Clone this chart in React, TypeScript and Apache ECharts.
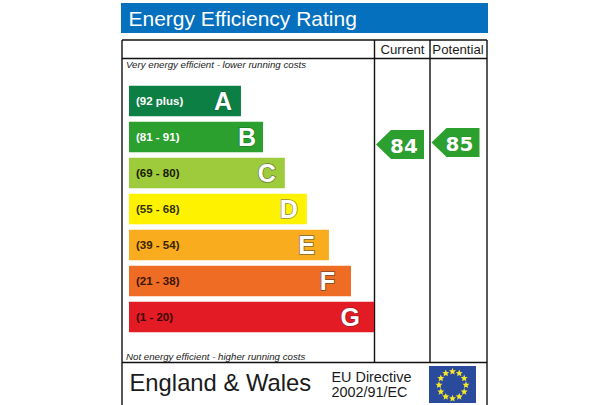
import React, { useEffect, useRef } from "react";
import * as echarts from "echarts";

const title = "Energy Efficiency Rating";
const columns = ["Current", "Potential"];
const bands = ["(92 plus)", "(81 - 91)", "(69 - 80)", "(55 - 68)", "(39 - 54)", "(21 - 38)", "(1 - 20)"];
const letters = ["A", "B", "C", "D", "E", "F", "G"];
const barLengths = [45.7, 54.7, 63.6, 72.6, 81.6, 90.6, 100];
const barColors = ["#0c8044", "#2ca02f", "#9dcb3c", "#fff200", "#f9ac1d", "#ef6c24", "#e31b25"];
const bandTextColors = ["#ffffff", "#ffffff", "#1a1a00", "#333300", "#3a2500", "#3a1500", "#3a0505"];
const letterEdges = ["#0f6b3a", "#1f7f2a", "#6f7f40", "#8f8f50", "#7f6a30", "#7a4a30", "#a01c22"];
const letterShift = [1, 3, 1, 1, -4, -6, -4];
const scores = [84, 85];
const topNote = "Very energy efficient - lower running costs";
const bottomNote = "Not energy efficient - higher running costs";
const region = "England & Wales";
const directive = ["EU Directive", "2002/91/EC"];

const SANS = "Liberation Sans, Arial, sans-serif";
const star = (cx: number, cy: number, r: number) => {
  const pts: number[][] = [];
  for (let i = 0; i < 10; i++) {
    const a = -Math.PI / 2 + (i * Math.PI) / 5;
    const q = i % 2 ? r * 0.45 : r;
    pts.push([cx + q * Math.cos(a), cy + q * Math.sin(a)]);
  }
  return { type: "polygon", silent: true, shape: { points: pts }, style: { fill: "#f6e829" } };
};
const line = (x1: number, y1: number, x2: number, y2: number) => ({
  type: "line",
  silent: true,
  shape: { x1, y1, x2, y2 },
  style: { stroke: "#111111", lineWidth: 1.4 },
});
const txt = (x: number, y: number, text: string, font: string, fill = "#1a1a1a", align = "left") => ({
  type: "text",
  silent: true,
  x,
  y,
  style: { text, font, fill, align, verticalAlign: "middle" },
});

export default function App() {
  const ref = useRef<HTMLDivElement>(null);
  useEffect(() => {
    document.body.style.margin = "0";
    const chart = echarts.init(ref.current!, undefined, { renderer: "svg" });
    const starsEls = Array.from({ length: 12 }, (_, i) => {
      const a = (i * Math.PI) / 6;
      return star(452.5 + 13.5 * Math.sin(a), 385 - 13.5 * Math.cos(a), 3.7);
    });
    chart.setOption({
      animation: false,
      backgroundColor: "#ffffff",
      grid: [
        { left: 129, top: 83, width: 245, height: 252, containLabel: false },
        { left: 372.25, top: 112.5, width: 111, height: 200 },
      ],
      xAxis: [
        { type: "value", gridIndex: 0, min: 0, max: 100, show: false },
        { type: "category", gridIndex: 1, data: columns, show: false },
      ],
      yAxis: [
        { type: "category", gridIndex: 0, inverse: true, data: bands, show: false },
        { type: "value", gridIndex: 1, min: 0, max: 100, show: false },
      ],
      series: [
        {
          type: "bar",
          xAxisIndex: 0,
          yAxisIndex: 0,
          barWidth: 30.5,
          data: barLengths.map((v, i) => ({
            value: v,
            itemStyle: { color: barColors[i] },
            label: { color: bandTextColors[i] },
          })),
          label: {
            show: true,
            position: "insideLeft",
            distance: 7,
            offset: [0, -0.5],
            formatter: (p: any) => bands[p.dataIndex],
            fontFamily: SANS,
            fontSize: 11.5,
            fontWeight: "bold",
          },
        },
        {
          type: "bar",
          xAxisIndex: 0,
          yAxisIndex: 0,
          barWidth: 30.5,
          barGap: "-100%",
          z: 3,
          data: barLengths.map((v, i) => ({
            value: v,
            itemStyle: { color: "transparent" },
            label: { offset: [letterShift[i], 0], textBorderColor: letterEdges[i] },
          })),
          label: {
            show: true,
            position: "insideRight",
            distance: 10,
            formatter: (p: any) => letters[p.dataIndex],
            fontFamily: SANS,
            fontSize: 25,
            fontWeight: "bold",
            color: "#ffffff",
            textBorderWidth: 1.5,
          },
        },
        {
          type: "scatter",
          xAxisIndex: 1,
          yAxisIndex: 1,
          z: 4,
          symbol: "path://M0 14.5 L15 0 L48 0 L48 29 L15 29 Z",
          symbolSize: [48, 29],
          itemStyle: { color: "#2ca02f", opacity: 1 },
          data: scores,
          label: {
            show: true,
            position: "inside",
            offset: [4, 1],
            fontFamily: "DejaVu Sans, sans-serif",
            fontSize: 20,
            fontWeight: "bold",
            color: "#ffffff",
            textBorderColor: "#1f7a24",
            textBorderWidth: 0.5,
            formatter: (p: any) => String(p.value),
          },
        },
      ],
      graphic: [
        { type: "rect", silent: true, shape: { x: 121, y: 3, width: 367, height: 30 }, style: { fill: "#0570be" } },
        txt(128.5, 18, title, `21px ${SANS}`, "#ffffff"),
        line(122, 40, 487, 40),
        line(122, 58.5, 487, 58.5),
        line(122, 362.5, 487, 362.5),
        line(122, 40, 122, 405),
        line(374.5, 40, 374.5, 362.5),
        line(430, 40, 430, 362.5),
        line(487, 40, 487, 405),
        txt(402.5, 49.5, columns[0], `13.2px ${SANS}`, "#1a1a1a", "center"),
        txt(458, 49.5, columns[1], `13.2px ${SANS}`, "#1a1a1a", "center"),
        txt(126, 64.5, topNote, `italic 9.7px ${SANS}`),
        txt(126, 356, bottomNote, `italic 9.7px ${SANS}`),
        txt(129.5, 382.5, region, `23.8px ${SANS}`),
        txt(331.5, 376.5, directive[0], `14.4px ${SANS}`),
        txt(331.5, 392, directive[1], `14.4px ${SANS}`),
        { type: "rect", silent: true, shape: { x: 429, y: 366, width: 47, height: 37 }, style: { fill: "#2a4a9c" } },
        ...starsEls,
      ],
    });
    return () => chart.dispose();
  }, []);
  return <div ref={ref} style={{ width: 608, height: 405 }} />;
}
